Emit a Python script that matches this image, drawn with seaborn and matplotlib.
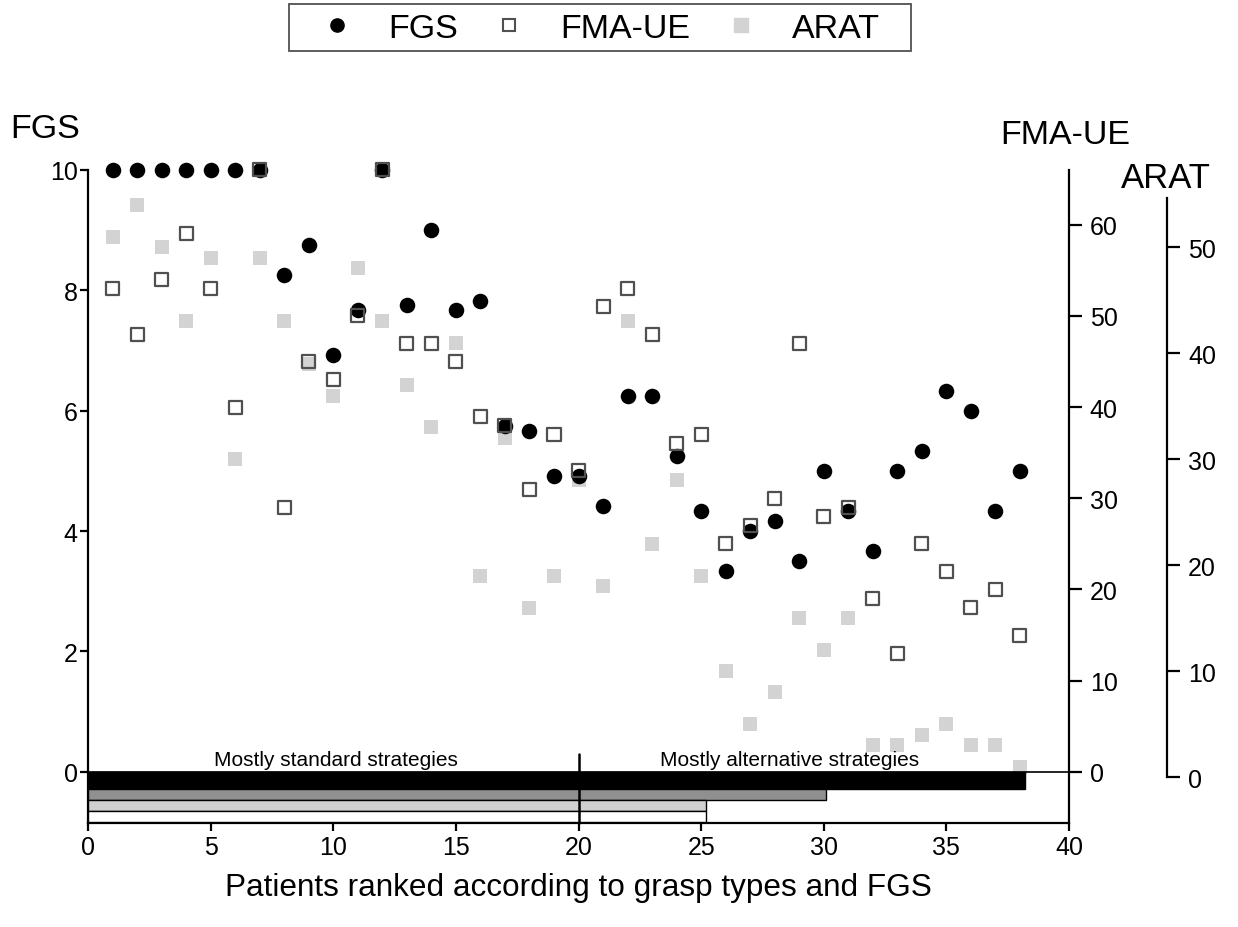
import numpy as np
import seaborn as sns
import matplotlib.pyplot as plt
from matplotlib.lines import Line2D
from matplotlib.patches import Rectangle

# patients 1..38, ranked by grasp type and FGS
patients = list(range(1, 39))
fgs = [10, 10, 10, 10, 10, 10, 10, 8.25, 8.75, 6.92,
       7.67, 10, 7.75, 9.0, 7.67, 7.83, 5.75, 5.67, 4.92, 4.92,
       4.42, 6.25, 6.25, 5.25, 4.33, 3.33, 4.0, 4.17, 3.5, 5.0,
       4.33, 3.67, 5.0, 5.33, 6.33, 6.0, 4.33, 5.0]
fma_ue = [53, 48, 54, 59, 53, 40, 66, 29, 45, 43,
          50, 66, 47, 47, 45, 39, 38, 31, 37, 33,
          51, 53, 48, 36, 37, 25, 27, 30, 47, 28,
          29, 19, 13, 25, 22, 18, 20, 15]
arat = [51, 54, 50, 43, 49, 30, 49, 43, 39, 36,
        48, 43, 37, 33, 41, 19, 32, 16, 19, 28,
        18, 43, 22, 28, 19, 10, 5, 8, 15, 12,
        15, 3, 3, 4, 5, 3, 3, 1]

# strategy bars under the zero line
bar_lengths = [38.2, 30.1, 25.2, 25.2]
bar_colors = ['black', '#909090', '#d0d0d0', 'white']
bar_tops = [0, -0.28, -0.47, -0.65]
bar_bottoms = [-0.28, -0.47, -0.65, -0.83]

sns.set_style('ticks')
plt.rcParams['font.family'] = ['Liberation Sans', 'DejaVu Sans']
plt.rcParams.update({'text.color': 'black', 'axes.labelcolor': 'black',
                     'xtick.color': 'black', 'ytick.color': 'black'})

fig = plt.figure(figsize=(12.38, 9.28), dpi=100)
ax = fig.add_axes([0.0711, 0.1121, 0.7924, 0.7037])
ax_fma = ax.twinx()
ax_arat = ax.twinx()

# draw order: ARAT below, FGS, FMA-UE on top
ax_arat.set_zorder(1)
ax.set_zorder(2)
ax_fma.set_zorder(3)
for a in (ax, ax_fma, ax_arat):
    a.patch.set_visible(False)

ymin = -0.85
ax.set_xlim(0, 40)
ax.set_ylim(ymin, 10)
ax_fma.set_ylim(ymin * 6.6, 66)
arat_scale = 10.6  # px per ARAT point
ax_arat.set_ylim((778.3 - 824) / arat_scale, (778.3 - 171) / arat_scale)

sns.scatterplot(x=patients, y=arat, ax=ax_arat, marker='s', s=110,
                color='#d3d3d3', linewidth=0, clip_on=False, legend=False)
sns.scatterplot(x=patients, y=fgs, ax=ax, marker='o', s=125,
                color='black', linewidth=0, clip_on=False, legend=False)
sns.scatterplot(x=patients, y=fma_ue, ax=ax_fma, marker='s', s=88,
                facecolor='none', edgecolor='#505050', linewidth=1.6,
                clip_on=False, legend=False)

# bars
for length, col, top, bot in zip(bar_lengths, bar_colors, bar_tops, bar_bottoms):
    ax.barh(y=(top + bot) / 2, width=length, height=top - bot, left=0,
            color=col, edgecolor='black', linewidth=1, zorder=3)
ax.axhline(0, color='black', lw=1.2, zorder=4)
ax.plot([20, 20], [ymin, 0.3], color='black', lw=1.8, zorder=5, clip_on=False)
ax.text(10.1, 0.2, 'Mostly standard strategies', ha='center', va='center', fontsize=15)
ax.text(28.6, 0.2, 'Mostly alternative strategies', ha='center', va='center', fontsize=15)

# spines and ticks
for a in (ax, ax_fma, ax_arat):
    a.spines['top'].set_visible(False)
ax.spines['right'].set_visible(False)
ax_fma.spines['left'].set_visible(False)
ax_fma.spines['bottom'].set_visible(False)
ax_arat.spines['left'].set_visible(False)
ax_arat.spines['bottom'].set_visible(False)
ax_arat.spines['right'].set_position(('axes', 1.1))
ax_arat.spines['right'].set_bounds(0, 54.6)

for a in (ax, ax_fma, ax_arat):
    for sp in a.spines.values():
        sp.set_linewidth(1.6)
        sp.set_color('black')

ax.set_xticks(np.arange(0, 41, 5))
ax.set_yticks(np.arange(0, 11, 2))
ax_fma.set_yticks(np.arange(0, 61, 10))
ax_arat.set_yticks(np.arange(0, 51, 10))
ax.tick_params(axis='x', direction='out', length=6, width=1.6, pad=3, labelsize=18)
ax.tick_params(axis='y', direction='out', length=6, width=1.6, pad=1.5, labelsize=18)
ax_fma.tick_params(axis='y', direction='out', length=9, width=1.6, pad=6, labelsize=18)
ax_arat.tick_params(axis='y', direction='out', length=9, width=1.6, pad=6, labelsize=18)

ax.set_xlabel('Patients ranked according to grasp types and FGS', fontsize=22.7, labelpad=9)

fig.text(10 / 1238, 1 - 130 / 928, 'FGS', ha='left', va='center', fontsize=24.5)
fig.text(1065 / 1238, 1 - 136 / 928, 'FMA-UE', ha='center', va='center', fontsize=24.5)
fig.text(1166 / 1238, 1 - 178 / 928, 'ARAT', ha='center', va='center', fontsize=25)

# legend
handles = [
    Line2D([], [], ls='none', marker='o', markersize=9.5, color='black'),
    Line2D([], [], ls='none', marker='s', markersize=8.5, markerfacecolor='none',
           markeredgecolor='#505050', markeredgewidth=1.5),
    Line2D([], [], ls='none', marker='s', markersize=9.5, color='#d3d3d3'),
]
fig.legend(handles, ['FGS', 'FMA-UE', 'ARAT'], ncol=3, loc='center',
           bbox_to_anchor=(600 / 1238, 1 - 29 / 928), frameon=False,
           fontsize=24.5, handlelength=1.0, handletextpad=1.0, columnspacing=1.0)
fig.patches.append(Rectangle((289 / 1238, 1 - 52 / 928), 622 / 1238, 47 / 928,
                             transform=fig.transFigure, fill=False,
                             edgecolor='#505050', linewidth=1.3))

fig.savefig('out.png', dpi=100, facecolor='white')
